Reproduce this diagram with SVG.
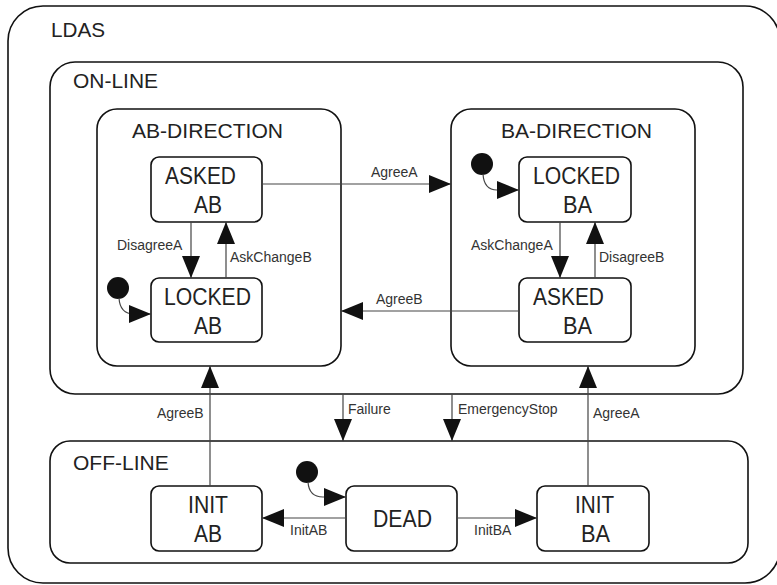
<svg xmlns="http://www.w3.org/2000/svg" width="777" height="585" viewBox="0 0 777 585">
<style>
.box{fill:none;stroke:#111;stroke-width:1.6}
.st{fill:#fff;stroke:#111;stroke-width:1.6}
.title{font-family:"Liberation Sans",Arial,sans-serif;font-size:21px;fill:#222}
.sn{font-family:"Liberation Sans",Arial,sans-serif;font-size:24px;fill:#222}
.lbl{font-family:"Liberation Sans",Arial,sans-serif;font-size:14px;fill:#333}
.c{fill:none;stroke:#444;stroke-width:1.2}
.dot{fill:#111}
</style>
<defs>
<marker id="ah" markerUnits="userSpaceOnUse" markerWidth="22" markerHeight="18" refX="22" refY="9" orient="auto">
<path d="M0,0 L22,9 L0,18 Z" fill="#111"/>
</marker>
</defs>
<rect width="777" height="585" fill="#fff"/>
<g id="LDAS">
<rect class="box" x="8" y="6" width="772" height="577" rx="35"/>
<text class="title" x="51" y="37" textLength="54" lengthAdjust="spacingAndGlyphs">LDAS</text>
</g>
<g id="ON-LINE">
<rect class="box" x="50" y="62" width="693" height="332" rx="25"/>
<text class="title" x="73" y="88" textLength="85" lengthAdjust="spacingAndGlyphs">ON-LINE</text>
</g>
<g id="AB-DIRECTION">
<rect class="box" x="97" y="109" width="244" height="257" rx="20"/>
<text class="title" x="132" y="138" textLength="151" lengthAdjust="spacingAndGlyphs">AB-DIRECTION</text>
</g>
<g id="BA-DIRECTION">
<rect class="box" x="451" y="109" width="244" height="257" rx="20"/>
<text class="title" x="501" y="138" textLength="151" lengthAdjust="spacingAndGlyphs">BA-DIRECTION</text>
</g>
<g id="OFF-LINE">
<rect class="box" x="50" y="441" width="698" height="122" rx="20"/>
<text class="title" x="73" y="470">OFF-LINE</text>
</g>
<g id="ASKED_AB">
<rect class="st" x="151" y="157" width="111" height="65" rx="8"/>
<text class="sn" x="165" y="184" textLength="71" lengthAdjust="spacingAndGlyphs">ASKED</text>
<text class="sn" x="194" y="213" textLength="28" lengthAdjust="spacingAndGlyphs">AB</text>
</g>
<g id="LOCKED_AB">
<rect class="st" x="151" y="278" width="111" height="64" rx="8"/>
<text class="sn" x="164" y="305" textLength="87" lengthAdjust="spacingAndGlyphs">LOCKED</text>
<text class="sn" x="194" y="334" textLength="28" lengthAdjust="spacingAndGlyphs">AB</text>
</g>
<g id="LOCKED_BA">
<rect class="st" x="519" y="157" width="112" height="65" rx="8"/>
<text class="sn" x="533" y="184" textLength="87" lengthAdjust="spacingAndGlyphs">LOCKED</text>
<text class="sn" x="563" y="213" textLength="29" lengthAdjust="spacingAndGlyphs">BA</text>
</g>
<g id="ASKED_BA">
<rect class="st" x="519" y="278" width="112" height="64" rx="8"/>
<text class="sn" x="533" y="305" textLength="71" lengthAdjust="spacingAndGlyphs">ASKED</text>
<text class="sn" x="563" y="334" textLength="29" lengthAdjust="spacingAndGlyphs">BA</text>
</g>
<g id="INIT_AB">
<rect class="st" x="151" y="486" width="111" height="65" rx="8"/>
<text class="sn" x="188" y="513" textLength="40" lengthAdjust="spacingAndGlyphs">INIT</text>
<text class="sn" x="194" y="542" textLength="28" lengthAdjust="spacingAndGlyphs">AB</text>
</g>
<g id="DEAD">
<rect class="st" x="346" y="486" width="111" height="65" rx="8"/>
<text class="sn" x="373" y="527" textLength="59" lengthAdjust="spacingAndGlyphs">DEAD</text>
</g>
<g id="INIT_BA">
<rect class="st" x="537" y="486" width="112" height="65" rx="8"/>
<text class="sn" x="575" y="513" textLength="39" lengthAdjust="spacingAndGlyphs">INIT</text>
<text class="sn" x="581" y="542" textLength="29" lengthAdjust="spacingAndGlyphs">BA</text>
</g>
<g id="initial-states">
<circle class="dot" cx="118" cy="288" r="11"/>
<circle class="dot" cx="482" cy="164" r="11"/>
<circle class="dot" cx="307" cy="472" r="11"/>
</g>
<g id="connectors">
<path class="c" d="M119,298 Q120,314 134,314 L151,314" marker-end="url(#ah)"/>
<path class="c" d="M483,174 Q484,190 497,190 L519,190" marker-end="url(#ah)"/>
<path class="c" d="M308,482 Q309,497 323,497 L346,497" marker-end="url(#ah)"/>
<path class="c" d="M191,222 L191,278" marker-end="url(#ah)"/>
<text class="lbl" x="117" y="250">DisagreeA</text>
<path class="c" d="M226,278 L226,222" marker-end="url(#ah)"/>
<text class="lbl" x="230" y="262">AskChangeB</text>
<path class="c" d="M560,222 L560,278" marker-end="url(#ah)"/>
<text class="lbl" x="471" y="250">AskChangeA</text>
<path class="c" d="M595,278 L595,222" marker-end="url(#ah)"/>
<text class="lbl" x="599" y="262">DisagreeB</text>
<path class="c" d="M262,184 L451,184" marker-end="url(#ah)"/>
<text class="lbl" x="371" y="177">AgreeA</text>
<path class="c" d="M519,311 L341,311" marker-end="url(#ah)"/>
<text class="lbl" x="376" y="304">AgreeB</text>
<path class="c" d="M210,486 L210,366" marker-end="url(#ah)"/>
<text class="lbl" x="157" y="418">AgreeB</text>
<path class="c" d="M588,486 L588,366" marker-end="url(#ah)"/>
<text class="lbl" x="593" y="418">AgreeA</text>
<path class="c" d="M343,394 L343,441" marker-end="url(#ah)"/>
<text class="lbl" x="348" y="414">Failure</text>
<path class="c" d="M452,394 L452,441" marker-end="url(#ah)"/>
<text class="lbl" x="458" y="414">EmergencyStop</text>
<path class="c" d="M346,518 L262,518" marker-end="url(#ah)"/>
<text class="lbl" x="290" y="535">InitAB</text>
<path class="c" d="M457,518 L537,518" marker-end="url(#ah)"/>
<text class="lbl" x="474" y="535">InitBA</text>
</g>
</svg>
